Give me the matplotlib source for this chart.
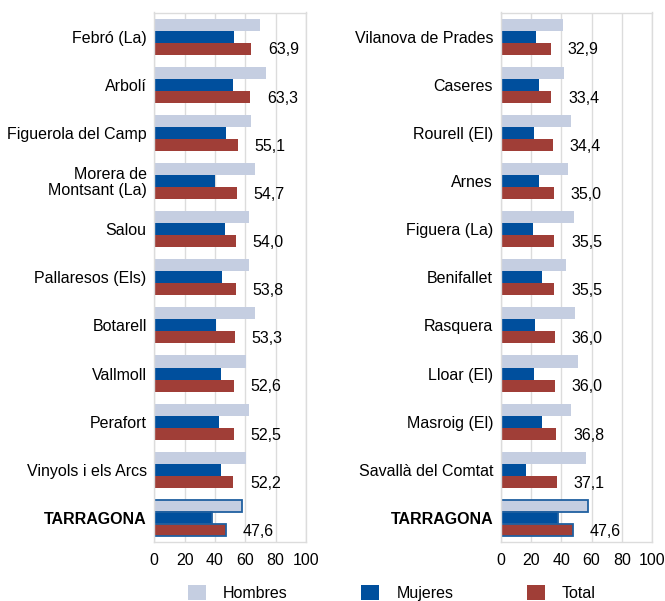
import matplotlib
matplotlib.use('Agg')
import matplotlib.pyplot as plt
import numpy as np

plt.rcParams['font.family'] = ['Liberation Sans', 'DejaVu Sans']

# left panel
muni_l = ['Febró (La)', 'Arbolí', 'Figuerola del Camp', 'Morera de\nMontsant (La)', 'Salou',
          'Pallaresos (Els)', 'Botarell', 'Vallmoll', 'Perafort', 'Vinyols i els Arcs', 'TARRAGONA']
hombres_l = [70.0, 73.5, 64.0, 66.2, 62.3, 62.5, 66.2, 60.8, 62.7, 60.8, 57.6]
mujeres_l = [52.6, 52.2, 47.4, 40.1, 46.5, 45.0, 40.6, 44.3, 42.8, 43.9, 38.1]
total_l = [63.9, 63.3, 55.1, 54.7, 54.0, 53.8, 53.3, 52.6, 52.5, 52.2, 47.6]

# right panel
muni_r = ['Vilanova de Prades', 'Caseres', 'Rourell (El)', 'Arnes', 'Figuera (La)', 'Benifallet',
          'Rasquera', 'Lloar (El)', 'Masroig (El)', 'Savallà del Comtat', 'TARRAGONA']
hombres_r = [41.1, 42.0, 46.2, 44.6, 48.3, 43.3, 49.0, 50.8, 46.6, 56.0, 57.6]
mujeres_r = [23.5, 25.3, 22.2, 25.3, 21.5, 27.4, 22.8, 22.0, 27.4, 16.5, 38.1]
total_r = [32.9, 33.4, 34.4, 35.0, 35.5, 35.5, 36.0, 36.0, 36.8, 37.1, 47.6]

c_h = '#c5cee1'
c_m = '#004f9d'
c_t = '#a03e37'
grid_c = '#dcdcdc'
edge_tgn = '#2060a0'
fs = 11.5

W, H = 665, 601
fig = plt.figure(figsize=(W / 100, H / 100), dpi=100)


def panel(left, names, hom, muj, tot):
    ax = fig.add_axes([left / W, (H - 542) / H, 151.5 / W, (542 - 12.5) / H])
    y = np.arange(len(names))
    bh = 0.25
    bars_h = ax.barh(y - bh, hom, height=bh, color=c_h, zorder=2)
    bars_m = ax.barh(y, muj, height=bh, color=c_m, zorder=2)
    bars_t = ax.barh(y + bh, tot, height=bh, color=c_t, zorder=2)
    # outline the TARRAGONA group
    for b in (bars_h[-1], bars_m[-1], bars_t[-1]):
        b.set_edgecolor(edge_tgn)
        b.set_linewidth(1.3)
    for yi, v in zip(y, tot):
        ax.annotate(f'{v:.1f}'.replace('.', ','), xy=(v, yi + bh), xytext=(12, -1),
                    textcoords='offset points', va='center', ha='left', fontsize=fs)
    ax.set_xlim(0, 100)
    ax.set_ylim(len(names) - 0.5, -0.5)
    ax.set_xticks(range(0, 101, 20))
    ax.set_yticks(y)
    ax.set_yticklabels(names)
    for t in ax.get_yticklabels():
        t.set_linespacing(1.05)
        t.set_fontsize(fs)
        if t.get_text() == 'TARRAGONA':
            t.set_fontweight('bold')
    ax.tick_params(axis='both', length=0, labelsize=fs)
    ax.tick_params(axis='y', pad=5.5)
    ax.tick_params(axis='x', pad=8)
    ax.grid(axis='x', color=grid_c, lw=1, zorder=0)
    for s in ax.spines.values():
        s.set_color(grid_c)
        s.set_linewidth(1)
    return bars_h, bars_m, bars_t


bh_, bm_, bt_ = panel(154.3, muni_l, hombres_l, mujeres_l, total_l)
panel(500.7, muni_r, hombres_r, mujeres_r, total_r)

leg = fig.legend([bh_[0], bm_[0], bt_[0]], ['Hombres', 'Mujeres', 'Total'],
                 loc='center left', bbox_to_anchor=(188 / W, (H - 593) / H),
                 ncol=3, frameon=False, fontsize=fs, borderpad=0, borderaxespad=0,
                 handlelength=1.1, handleheight=1.1, handletextpad=1.1,
                 columnspacing=4.6)

fig.savefig('out.png', dpi=100)
